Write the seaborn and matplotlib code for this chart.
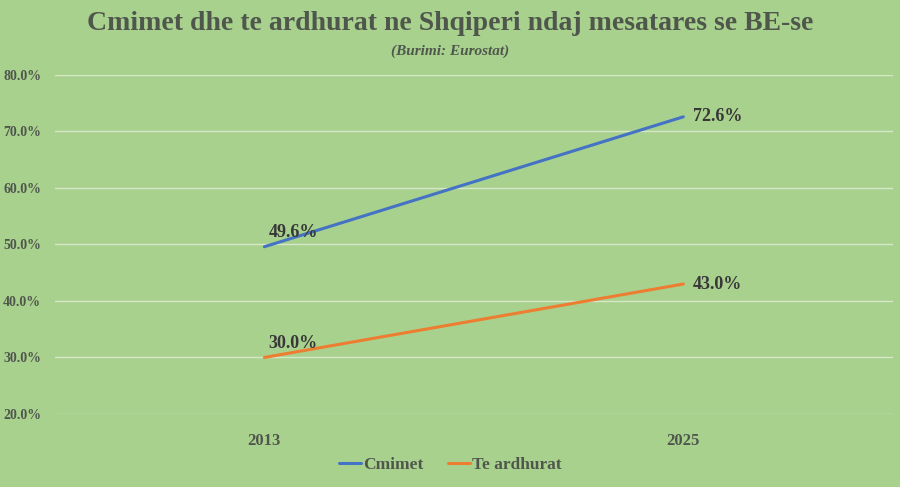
import numpy as np
import pandas as pd
import matplotlib
matplotlib.use("Agg")
import matplotlib.pyplot as plt
from matplotlib.ticker import PercentFormatter
import seaborn as sns

years = ["2013", "2025"]
cmimet = [49.6, 72.6]
te_ardhurat = [30.0, 43.0]
series_names = ["Cmimet", "Te ardhurat"]

bg = "#A9D18E"
txt = "#4F574C"
palette = ["#4472C4", "#ED7D31"]

df = pd.DataFrame({
    "year": years * 2,
    "value": cmimet + te_ardhurat,
    "series": [series_names[0]] * 2 + [series_names[1]] * 2,
})

sns.set_style("white")
plt.rcParams["font.family"] = ["Liberation Serif", "DejaVu Serif"]
plt.rcParams["font.weight"] = "bold"

fig = plt.figure(figsize=(9, 4.87), dpi=100, facecolor=bg)
ax = fig.add_axes([0.061, 0.150, 0.931, 0.696])
ax.set_facecolor(bg)

sns.lineplot(data=df, x="year", y="value", hue="series", palette=palette,
             linewidth=2.2, ax=ax, legend=True)

ax.set_xlim(-0.5, 1.5)
ax.set_ylim(20, 80)
ax.set_yticks(np.arange(20, 81, 10))
ax.yaxis.set_major_formatter(PercentFormatter(decimals=1))
ax.grid(axis="y", color="#D6E8CA", linewidth=1.0)
ax.set_axisbelow(True)
for s in ax.spines.values():
    s.set_visible(False)
ax.tick_params(axis="y", length=0, labelsize=10, labelcolor=txt, pad=10)
ax.tick_params(axis="x", length=0, labelsize=12, labelcolor=txt, pad=14)
ax.set_xlabel("")
ax.set_ylabel("")

# data labels
for vals in (cmimet, te_ardhurat):
    ax.annotate(f"{vals[0]:.1f}%", (0, vals[0]), xytext=(3, 4), textcoords="offset points",
                ha="left", va="bottom", fontsize=13, fontweight="bold", color="#383838")
    ax.annotate(f"{vals[1]:.1f}%", (1, vals[1]), xytext=(7, 0), textcoords="offset points",
                ha="left", va="center", fontsize=13, fontweight="bold", color="#383838")

fig.text(0.5, 0.952, "Cmimet dhe te ardhurat ne Shqiperi ndaj mesatares se BE-se",
         ha="center", va="center", fontsize=20, fontweight="bold", color=txt)
fig.text(0.5, 0.895, "(Burimi: Eurostat)", ha="center", va="center",
         fontsize=11, fontweight="bold", style="italic", color=txt)

leg = ax.legend(loc="center", bbox_to_anchor=(0.5, 0.045), bbox_transform=fig.transFigure,
                ncol=2, frameon=False, handlelength=1.3, handletextpad=0.1,
                columnspacing=1.4, fontsize=12.5)
for t in leg.get_texts():
    t.set_color(txt)

fig.savefig("out.png", dpi=100, facecolor=bg)
